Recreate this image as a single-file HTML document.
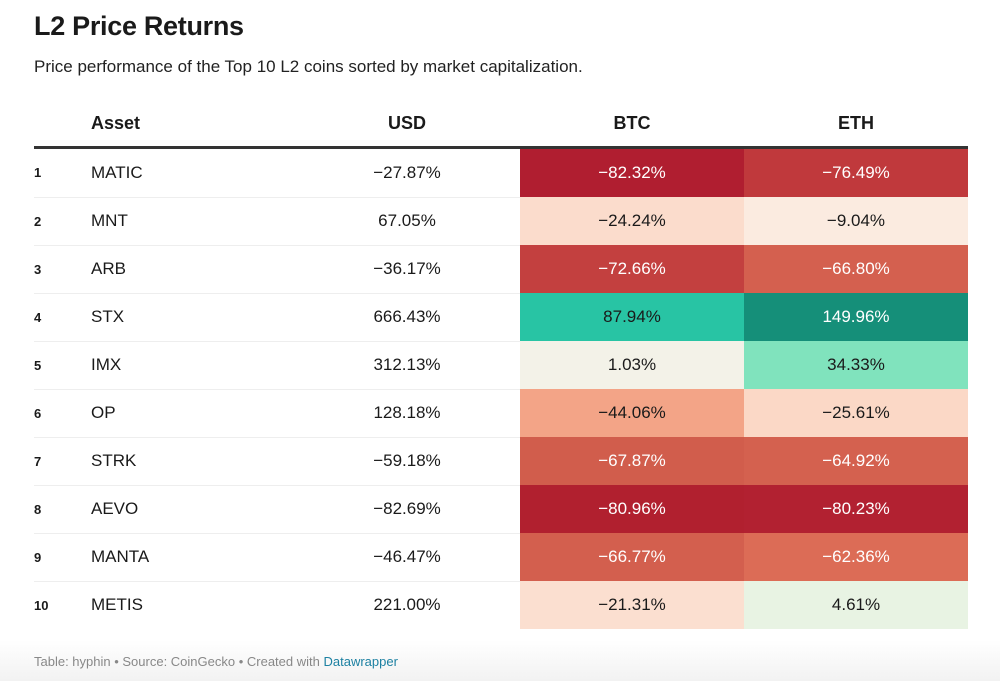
<!DOCTYPE html>
<html><head><meta charset="utf-8"><style>
body{margin:0;width:1000px;height:681px;background:#fff;font-family:"Liberation Sans",Arial,sans-serif;color:#1a1a1a;position:relative;overflow:hidden}
h1{position:absolute;left:34px;top:11px;margin:0;font-size:27px;font-weight:bold;letter-spacing:-0.3px}
.sub{position:absolute;left:34px;top:57px;font-size:17px;color:#222}
table{position:absolute;left:34px;top:101px;width:934px;border-collapse:collapse;font-size:17px}
th{height:45px;font-weight:bold;font-size:18px;text-align:center;border-bottom:3px solid #333;padding:0}
td{height:47px;padding:0;text-align:center;border-bottom:1px solid #eee}
td.n{width:57px;text-align:left;font-weight:bold;font-size:13px}
td.a{text-align:left;width:203px}
th.a{text-align:left}
td.u{width:226px}
td.c{width:224px;border-bottom:none;height:48px}
.w{color:#fff}
tr:last-child td{border-bottom:none}
.foot{position:absolute;left:34px;top:654px;font-size:13px;color:#888}
.foot span{color:#1d81a2}
.fade{position:absolute;left:0;top:640px;width:1000px;height:41px;background:linear-gradient(#fff,#f2f2f2)}
</style></head><body>
<div class="fade"></div>
<h1>L2 Price Returns</h1>
<div class="sub">Price performance of the Top 10 L2 coins sorted by market capitalization.</div>
<table>
<tr><th></th><th class="a">Asset</th><th>USD</th><th>BTC</th><th>ETH</th></tr>
<tr><td class="n">1</td><td class="a">MATIC</td><td class="u">−27.87%</td><td class="c w" style="background:#b01e30">−82.32%</td><td class="c w" style="background:#c0393c">−76.49%</td></tr>
<tr><td class="n">2</td><td class="a">MNT</td><td class="u">67.05%</td><td class="c" style="background:#fbdccc">−24.24%</td><td class="c" style="background:#fbebe0">−9.04%</td></tr>
<tr><td class="n">3</td><td class="a">ARB</td><td class="u">−36.17%</td><td class="c w" style="background:#c3403f">−72.66%</td><td class="c w" style="background:#d4604f">−66.80%</td></tr>
<tr><td class="n">4</td><td class="a">STX</td><td class="u">666.43%</td><td class="c" style="background:#28c4a4">87.94%</td><td class="c w" style="background:#158f79">149.96%</td></tr>
<tr><td class="n">5</td><td class="a">IMX</td><td class="u">312.13%</td><td class="c" style="background:#f3f2e8">1.03%</td><td class="c" style="background:#80e3bd">34.33%</td></tr>
<tr><td class="n">6</td><td class="a">OP</td><td class="u">128.18%</td><td class="c" style="background:#f3a487">−44.06%</td><td class="c" style="background:#fbd8c6">−25.61%</td></tr>
<tr><td class="n">7</td><td class="a">STRK</td><td class="u">−59.18%</td><td class="c w" style="background:#d15d4c">−67.87%</td><td class="c w" style="background:#d4614f">−64.92%</td></tr>
<tr><td class="n">8</td><td class="a">AEVO</td><td class="u">−82.69%</td><td class="c w" style="background:#b1202f">−80.96%</td><td class="c w" style="background:#b22131">−80.23%</td></tr>
<tr><td class="n">9</td><td class="a">MANTA</td><td class="u">−46.47%</td><td class="c w" style="background:#d35f4e">−66.77%</td><td class="c w" style="background:#dc6c56">−62.36%</td></tr>
<tr><td class="n">10</td><td class="a">METIS</td><td class="u">221.00%</td><td class="c" style="background:#fbdfd0">−21.31%</td><td class="c" style="background:#e8f3e3">4.61%</td></tr>
</table>
<div class="foot">Table: hyphin • Source: CoinGecko • Created with <span>Datawrapper</span></div>
</body></html>
